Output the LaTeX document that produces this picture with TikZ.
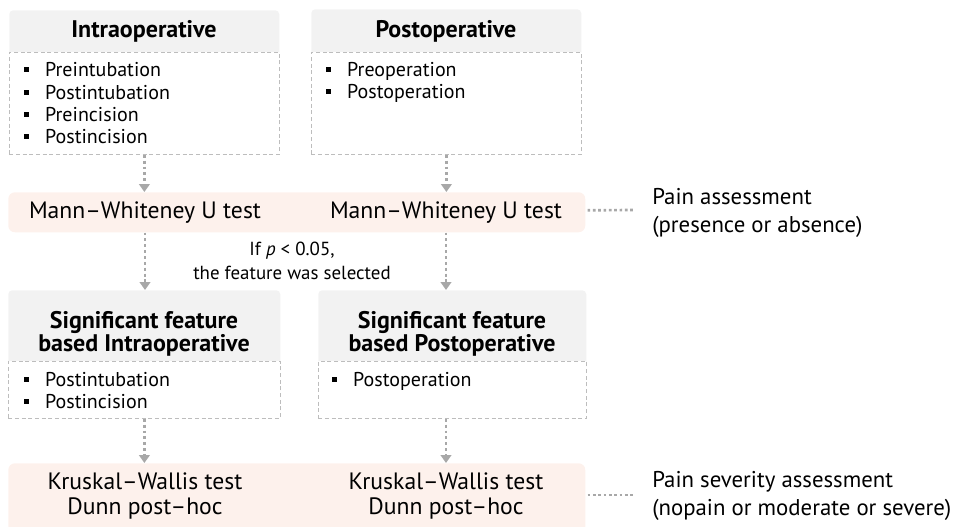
\documentclass[tikz,border=0pt]{standalone}
\usepackage{fontspec}
\setmainfont{PT Sans}
\usetikzlibrary{arrows.meta,calc}
\definecolor{hdrgray}{HTML}{F2F2F2}
\definecolor{bandpink}{HTML}{FDF1EC}
\definecolor{boxline}{HTML}{BDBDBD}
\definecolor{arrgray}{HTML}{A8A8A8}
\newcommand{\bul}{\rule[3.3pt]{3.2pt}{3.2pt}\hspace{12.5pt}}
\begin{document}
\begin{tikzpicture}[x=0.75pt,y=-0.75pt,
  hdr/.style={fill=hdrgray, rounded corners=3pt, inner sep=0pt, anchor=north west},
  cbox/.style={draw=boxline, densely dashed, line width=0.6pt, fill=white, inner sep=0pt, anchor=north west},
  band/.style={fill=bandpink, rounded corners=5pt, inner sep=0pt, anchor=north west},
  htext/.style={font=\bfseries\fontsize{18}{17.5}\selectfont, align=center, inner sep=0pt},
  itm/.style={font=\fontsize{15}{18}\selectfont, anchor=base west, inner sep=0pt},
  btext/.style={font=\fontsize{17.75}{18.5}\selectfont, align=center, inner sep=0pt},
  ntext/.style={font=\fontsize{14.2}{18.5}\selectfont, align=center, inner sep=0pt},
  ptext/.style={font=\fontsize{17.1}{20.5}\selectfont, align=left, anchor=west, inner sep=0pt},
  arr/.style={draw=arrgray, line width=2.2pt, dash pattern=on 2.2pt off 2.2pt, -{Triangle[width=8pt,length=6pt]}},
  dotl/.style={draw=arrgray, line width=2pt, dash pattern=on 2pt off 2pt},
]
\useasboundingbox (0,0) rectangle (961,526);
\clip (0,0) rectangle (961,526);

% top row
\node[hdr, minimum width=202.5pt, minimum height=34.5pt] (ih) at (9,10) {};
\node[cbox, minimum width=202.5pt, minimum height=76.5pt] (ic) at (9,52) {};
\node[htext] (iht) at (144,31) {Intraoperative};
\node[itm] (i1) at (24,76) {\bul Preintubation};
\node[itm] (i2) at (24,99) {\bul Postintubation};
\node[itm] (i3) at (24,121) {\bul Preincision};
\node[itm] (i4) at (24,143) {\bul Postincision};

\node[hdr, minimum width=202.5pt, minimum height=35.25pt] (ph) at (311,9) {};
\node[cbox, minimum width=202.5pt, minimum height=76.5pt] (pc) at (311,52) {};
\node[htext] (pht) at (446,31) {Postoperative};
\node[itm] (p1) at (326,76) {\bul Preoperation};
\node[itm] (p2) at (326,98) {\bul Postoperation};

% Mann-Whitney band
\node[band, minimum width=432.75pt, minimum height=30pt] (mw) at (8,192) {};
\node[btext] (mwL) at (145,213) {Mann–Whiteney U test};
\node[btext] (mwR) at (446,213) {Mann–Whiteney U test};
\node[ptext] (pa) at (652,213) {Pain assessment\\(presence or absence)};

\node[ntext] (cond) at (292,261) {If \textit{p} < 0.05,\\the feature was selected};

% significant row
\node[hdr, minimum width=204pt, minimum height=56.25pt] (sh) at (8,290) {};
\node[cbox, minimum width=204pt, minimum height=42.75pt] (sc) at (8,361) {};
\node[htext] (sht) at (144,334) {Significant feature\\based Intraoperative};
\node[itm] (s1) at (24,386) {\bul Postintubation};
\node[itm] (s2) at (24,408) {\bul Postincision};

\node[hdr, minimum width=201pt, minimum height=56.25pt] (qh) at (318,290) {};
\node[cbox, minimum width=201pt, minimum height=42.75pt] (qc) at (318,361) {};
\node[htext] (qht) at (452,334) {Significant feature\\based Postoperative};
\node[itm] (q1) at (332,386) {\bul Postoperation};

% Kruskal band
\node[band, minimum width=432.75pt, minimum height=52.5pt] (kw) at (8,463) {};
\node[btext] (kwL) at (145,496) {Kruskal–Wallis test\\Dunn post–hoc};
\node[btext] (kwR) at (446,496) {Kruskal–Wallis test\\Dunn post–hoc};
\node[ptext] (ps) at (652,496) {Pain severity assessment\\(nopain or moderate or severe)};

% connectors
\draw[arr] (ic.south) -- (ic.south |- mw.north);
\draw[arr] (pc.south) -- (pc.south |- mw.north);
\draw[arr] (mwL |- mw.south) -- (mwL |- sh.north);
\draw[arr] (mwR |- mw.south) -- (mwR |- qh.north);
\draw[arr] (sc.south) -- (sc.south |- kw.north);
\draw[arr] (kwR |- qc.south) -- (kwR |- kw.north);
\draw[dotl] ($(mw.east)+(2,-2)$) -- ($(pa.west)+(-17,-3)$);
\draw[dotl] ($(mwR.east -| mw.east)+(2,282)$) -- ($(ps.west)+(-17,-1)$);
\end{tikzpicture}
\end{document}
